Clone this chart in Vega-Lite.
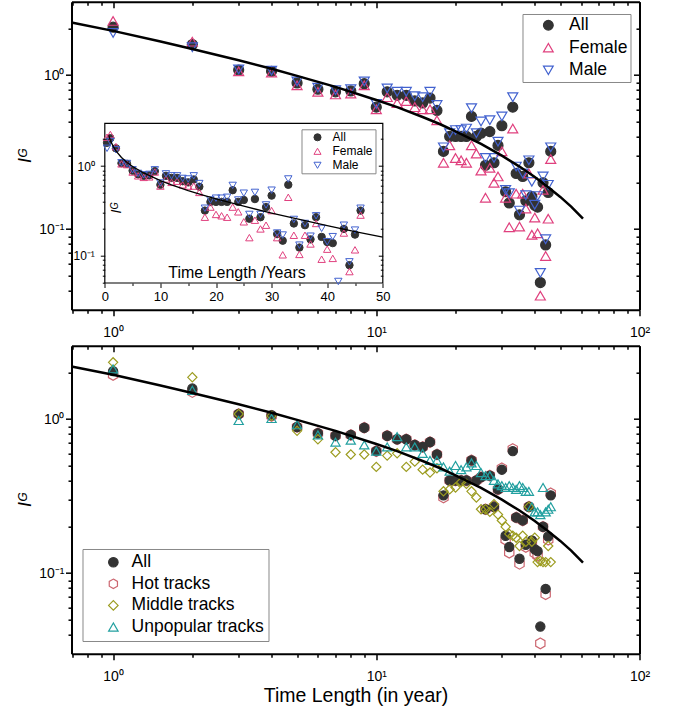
{
  "$schema": "https://vega.github.io/schema/vega-lite/v6.json",
  "padding": {"left": 16.5, "top": 0.7, "right": 5, "bottom": 5},
  "bounds": "flush",
  "spacing": 36,
  "config": {
    "font": "Liberation Sans",
    "view": {"stroke": null},
    "axis": {"grid": false, "domainColor": "black", "tickColor": "black", "labelColor": "black", "titleColor": "black", "labelFont": "Liberation Sans", "titleFont": "Liberation Sans", "titleFontWeight": "normal"},
    "legend": {"labelFont": "Liberation Sans", "labelColor": "black"}
  },
  "resolve": {
    "scale": {"x": "independent", "y": "independent", "stroke": "independent", "fill": "independent", "shape": "independent"},
    "legend": {"stroke": "independent", "fill": "independent", "shape": "independent"}
  },
  "datasets": {
    "gender": [
      {"s":"All","t":0.4,"v":1.82},{"s":"All","t":1,"v":2.05},{"s":"All","t":2,"v":1.58},{"s":"All","t":3,"v":1.08},{"s":"All","t":4,"v":1.06},{"s":"All","t":5,"v":0.89},{"s":"All","t":6,"v":0.81},{"s":"All","t":7,"v":0.78},{"s":"All","t":8,"v":0.79},{"s":"All","t":9,"v":0.88},{"s":"All","t":10,"v":0.62},{"s":"All","t":11,"v":0.78},{"s":"All","t":12,"v":0.74},{"s":"All","t":13,"v":0.74},{"s":"All","t":14,"v":0.68},{"s":"All","t":15,"v":0.66},{"s":"All","t":16,"v":0.71},{"s":"All","t":17,"v":0.59},{"s":"All","t":18,"v":0.32},{"s":"All","t":19,"v":0.4},{"s":"All","t":20,"v":0.4},{"s":"All","t":21,"v":0.4},{"s":"All","t":22,"v":0.4},{"s":"All","t":23,"v":0.54},{"s":"All","t":24,"v":0.4},{"s":"All","t":25,"v":0.42},{"s":"All","t":26,"v":0.26},{"s":"All","t":27,"v":0.43},{"s":"All","t":28,"v":0.27},{"s":"All","t":29,"v":0.35},{"s":"All","t":30,"v":0.47},{"s":"All","t":31,"v":0.175},{"s":"All","t":32,"v":0.148},{"s":"All","t":33,"v":0.62},{"s":"All","t":34,"v":0.23},{"s":"All","t":35,"v":0.124},{"s":"All","t":36,"v":0.22},{"s":"All","t":37,"v":0.153},{"s":"All","t":38,"v":0.27},{"s":"All","t":39,"v":0.163},{"s":"All","t":40,"v":0.143},{"s":"All","t":41,"v":0.139},{"s":"All","t":42,"v":0.045},{"s":"All","t":43,"v":0.2},{"s":"All","t":44,"v":0.079},{"s":"All","t":45,"v":0.173},{"s":"All","t":46,"v":0.32},
      {"s":"Female","t":0.4,"v":2.1},{"s":"Female","t":1,"v":2.25},{"s":"Female","t":2,"v":1.65},{"s":"Female","t":3,"v":1.06},{"s":"Female","t":4,"v":1.04},{"s":"Female","t":5,"v":0.86},{"s":"Female","t":6,"v":0.78},{"s":"Female","t":7,"v":0.75},{"s":"Female","t":8,"v":0.76},{"s":"Female","t":9,"v":0.86},{"s":"Female","t":10,"v":0.6},{"s":"Female","t":11,"v":0.72},{"s":"Female","t":12,"v":0.66},{"s":"Female","t":13,"v":0.68},{"s":"Female","t":14,"v":0.62},{"s":"Female","t":15,"v":0.6},{"s":"Female","t":16,"v":0.6},{"s":"Female","t":17,"v":0.51},{"s":"Female","t":18,"v":0.27},{"s":"Female","t":19,"v":0.35},{"s":"Female","t":20,"v":0.29},{"s":"Female","t":21,"v":0.28},{"s":"Female","t":22,"v":0.27},{"s":"Female","t":23,"v":0.35},{"s":"Female","t":24,"v":0.31},{"s":"Female","t":25,"v":0.24},{"s":"Female","t":26,"v":0.16},{"s":"Female","t":27,"v":0.25},{"s":"Female","t":28,"v":0.2},{"s":"Female","t":29,"v":0.22},{"s":"Female","t":30,"v":0.32},{"s":"Female","t":31,"v":0.16},{"s":"Female","t":32,"v":0.103},{"s":"Female","t":33,"v":0.45},{"s":"Female","t":34,"v":0.17},{"s":"Female","t":35,"v":0.104},{"s":"Female","t":36,"v":0.17},{"s":"Female","t":37,"v":0.136},{"s":"Female","t":38,"v":0.23},{"s":"Female","t":39,"v":0.092},{"s":"Female","t":40,"v":0.119},{"s":"Female","t":41,"v":0.094},{"s":"Female","t":42,"v":0.037},{"s":"Female","t":43,"v":0.18},{"s":"Female","t":44,"v":0.067},{"s":"Female","t":45,"v":0.117},{"s":"Female","t":46,"v":0.285},
      {"s":"Male","t":0.4,"v":1.58},{"s":"Male","t":1,"v":1.88},{"s":"Male","t":2,"v":1.52},{"s":"Male","t":3,"v":1.09},{"s":"Male","t":4,"v":1.07},{"s":"Male","t":5,"v":0.91},{"s":"Male","t":6,"v":0.83},{"s":"Male","t":7,"v":0.8},{"s":"Male","t":8,"v":0.81},{"s":"Male","t":9,"v":0.91},{"s":"Male","t":10,"v":0.65},{"s":"Male","t":11,"v":0.82},{"s":"Male","t":12,"v":0.78},{"s":"Male","t":13,"v":0.78},{"s":"Male","t":14,"v":0.73},{"s":"Male","t":15,"v":0.72},{"s":"Male","t":16,"v":0.78},{"s":"Male","t":17,"v":0.64},{"s":"Male","t":18,"v":0.34},{"s":"Male","t":19,"v":0.42},{"s":"Male","t":20,"v":0.44},{"s":"Male","t":21,"v":0.44},{"s":"Male","t":22,"v":0.45},{"s":"Male","t":23,"v":0.61},{"s":"Male","t":24,"v":0.42},{"s":"Male","t":25,"v":0.5},{"s":"Male","t":26,"v":0.29},{"s":"Male","t":27,"v":0.51},{"s":"Male","t":28,"v":0.29},{"s":"Male","t":29,"v":0.37},{"s":"Male","t":30,"v":0.54},{"s":"Male","t":31,"v":0.18},{"s":"Male","t":32,"v":0.171},{"s":"Male","t":33,"v":0.72},{"s":"Male","t":34,"v":0.255},{"s":"Male","t":35,"v":0.132},{"s":"Male","t":36,"v":0.23},{"s":"Male","t":37,"v":0.166},{"s":"Male","t":38,"v":0.28},{"s":"Male","t":39,"v":0.203},{"s":"Male","t":40,"v":0.144},{"s":"Male","t":41,"v":0.164},{"s":"Male","t":42,"v":0.052},{"s":"Male","t":43,"v":0.22},{"s":"Male","t":44,"v":0.086},{"s":"Male","t":45,"v":0.194},{"s":"Male","t":46,"v":0.34}
    ],
    "tracks": [
      {"s":"Hot tracks","t":1,"v":1.94},{"s":"Hot tracks","t":2,"v":1.5},{"s":"Hot tracks","t":3,"v":1.08},{"s":"Hot tracks","t":4,"v":1.05},{"s":"Hot tracks","t":5,"v":0.89},{"s":"Hot tracks","t":6,"v":0.81},{"s":"Hot tracks","t":7,"v":0.78},{"s":"Hot tracks","t":8,"v":0.79},{"s":"Hot tracks","t":9,"v":0.88},{"s":"Hot tracks","t":10,"v":0.62},{"s":"Hot tracks","t":11,"v":0.78},{"s":"Hot tracks","t":12,"v":0.74},{"s":"Hot tracks","t":13,"v":0.74},{"s":"Hot tracks","t":14,"v":0.68},{"s":"Hot tracks","t":15,"v":0.66},{"s":"Hot tracks","t":16,"v":0.71},{"s":"Hot tracks","t":17,"v":0.59},{"s":"Hot tracks","t":18,"v":0.31},{"s":"Hot tracks","t":19,"v":0.4},{"s":"Hot tracks","t":20,"v":0.4},{"s":"Hot tracks","t":21,"v":0.4},{"s":"Hot tracks","t":22,"v":0.4},{"s":"Hot tracks","t":23,"v":0.54},{"s":"Hot tracks","t":24,"v":0.4},{"s":"Hot tracks","t":25,"v":0.42},{"s":"Hot tracks","t":26,"v":0.26},{"s":"Hot tracks","t":27,"v":0.43},{"s":"Hot tracks","t":28,"v":0.27},{"s":"Hot tracks","t":29,"v":0.35},{"s":"Hot tracks","t":30,"v":0.48},{"s":"Hot tracks","t":31,"v":0.165},{"s":"Hot tracks","t":32,"v":0.136},{"s":"Hot tracks","t":33,"v":0.64},{"s":"Hot tracks","t":34,"v":0.23},{"s":"Hot tracks","t":35,"v":0.115},{"s":"Hot tracks","t":36,"v":0.22},{"s":"Hot tracks","t":37,"v":0.148},{"s":"Hot tracks","t":38,"v":0.27},{"s":"Hot tracks","t":39,"v":0.16},{"s":"Hot tracks","t":40,"v":0.135},{"s":"Hot tracks","t":41,"v":0.13},{"s":"Hot tracks","t":42,"v":0.035},{"s":"Hot tracks","t":43,"v":0.2},{"s":"Hot tracks","t":44,"v":0.073},{"s":"Hot tracks","t":45,"v":0.165},{"s":"Hot tracks","t":46,"v":0.33},
      {"s":"All","t":1,"v":2.05},{"s":"All","t":2,"v":1.58},{"s":"All","t":3,"v":1.08},{"s":"All","t":4,"v":1.06},{"s":"All","t":5,"v":0.89},{"s":"All","t":6,"v":0.81},{"s":"All","t":7,"v":0.78},{"s":"All","t":8,"v":0.79},{"s":"All","t":9,"v":0.88},{"s":"All","t":10,"v":0.62},{"s":"All","t":11,"v":0.78},{"s":"All","t":12,"v":0.74},{"s":"All","t":13,"v":0.74},{"s":"All","t":14,"v":0.68},{"s":"All","t":15,"v":0.66},{"s":"All","t":16,"v":0.71},{"s":"All","t":17,"v":0.59},{"s":"All","t":18,"v":0.32},{"s":"All","t":19,"v":0.4},{"s":"All","t":20,"v":0.4},{"s":"All","t":21,"v":0.4},{"s":"All","t":22,"v":0.4},{"s":"All","t":23,"v":0.54},{"s":"All","t":24,"v":0.4},{"s":"All","t":25,"v":0.42},{"s":"All","t":26,"v":0.26},{"s":"All","t":27,"v":0.43},{"s":"All","t":28,"v":0.27},{"s":"All","t":29,"v":0.35},{"s":"All","t":30,"v":0.47},{"s":"All","t":31,"v":0.175},{"s":"All","t":32,"v":0.148},{"s":"All","t":33,"v":0.62},{"s":"All","t":34,"v":0.23},{"s":"All","t":35,"v":0.124},{"s":"All","t":36,"v":0.22},{"s":"All","t":37,"v":0.153},{"s":"All","t":38,"v":0.27},{"s":"All","t":39,"v":0.163},{"s":"All","t":40,"v":0.143},{"s":"All","t":41,"v":0.139},{"s":"All","t":42,"v":0.045},{"s":"All","t":43,"v":0.2},{"s":"All","t":44,"v":0.079},{"s":"All","t":45,"v":0.173},{"s":"All","t":46,"v":0.32},
      {"s":"Middle tracks","t":1,"v":2.34},{"s":"Middle tracks","t":2,"v":1.87},{"s":"Middle tracks","t":3,"v":1.08},{"s":"Middle tracks","t":4,"v":1.05},{"s":"Middle tracks","t":5,"v":0.84},{"s":"Middle tracks","t":6,"v":0.74},{"s":"Middle tracks","t":7,"v":0.61},{"s":"Middle tracks","t":8,"v":0.59},{"s":"Middle tracks","t":9,"v":0.59},{"s":"Middle tracks","t":10,"v":0.49},{"s":"Middle tracks","t":11,"v":0.58},{"s":"Middle tracks","t":12,"v":0.6},{"s":"Middle tracks","t":13,"v":0.49},{"s":"Middle tracks","t":14,"v":0.53},{"s":"Middle tracks","t":15,"v":0.47},{"s":"Middle tracks","t":16,"v":0.45},{"s":"Middle tracks","t":17,"v":0.48},{"s":"Middle tracks","t":18,"v":0.34},{"s":"Middle tracks","t":19,"v":0.35},{"s":"Middle tracks","t":20,"v":0.36},{"s":"Middle tracks","t":21,"v":0.39},{"s":"Middle tracks","t":22,"v":0.38},{"s":"Middle tracks","t":23,"v":0.34},{"s":"Middle tracks","t":24,"v":0.31},{"s":"Middle tracks","t":25,"v":0.26},{"s":"Middle tracks","t":26,"v":0.26},{"s":"Middle tracks","t":27,"v":0.25},{"s":"Middle tracks","t":28,"v":0.28},{"s":"Middle tracks","t":29,"v":0.24},{"s":"Middle tracks","t":30,"v":0.22},{"s":"Middle tracks","t":31,"v":0.2},{"s":"Middle tracks","t":32,"v":0.18},{"s":"Middle tracks","t":33,"v":0.175},{"s":"Middle tracks","t":34,"v":0.17},{"s":"Middle tracks","t":35,"v":0.15},{"s":"Middle tracks","t":36,"v":0.175},{"s":"Middle tracks","t":37,"v":0.16},{"s":"Middle tracks","t":38,"v":0.27},{"s":"Middle tracks","t":39,"v":0.16},{"s":"Middle tracks","t":40,"v":0.17},{"s":"Middle tracks","t":41,"v":0.118},{"s":"Middle tracks","t":42,"v":0.12},{"s":"Middle tracks","t":43,"v":0.118},{"s":"Middle tracks","t":44,"v":0.118},{"s":"Middle tracks","t":45,"v":0.15},{"s":"Middle tracks","t":46,"v":0.118},
      {"s":"Unpopular tracks","t":1,"v":2.12},{"s":"Unpopular tracks","t":2,"v":1.54},{"s":"Unpopular tracks","t":3,"v":0.98},{"s":"Unpopular tracks","t":4,"v":1.01},{"s":"Unpopular tracks","t":5,"v":0.92},{"s":"Unpopular tracks","t":6,"v":0.79},{"s":"Unpopular tracks","t":7,"v":0.71},{"s":"Unpopular tracks","t":8,"v":0.73},{"s":"Unpopular tracks","t":9,"v":0.68},{"s":"Unpopular tracks","t":10,"v":0.62},{"s":"Unpopular tracks","t":11,"v":0.66},{"s":"Unpopular tracks","t":12,"v":0.77},{"s":"Unpopular tracks","t":13,"v":0.66},{"s":"Unpopular tracks","t":14,"v":0.66},{"s":"Unpopular tracks","t":15,"v":0.6},{"s":"Unpopular tracks","t":16,"v":0.54},{"s":"Unpopular tracks","t":17,"v":0.54},{"s":"Unpopular tracks","t":18,"v":0.49},{"s":"Unpopular tracks","t":19,"v":0.46},{"s":"Unpopular tracks","t":20,"v":0.5},{"s":"Unpopular tracks","t":21,"v":0.47},{"s":"Unpopular tracks","t":22,"v":0.49},{"s":"Unpopular tracks","t":23,"v":0.52},{"s":"Unpopular tracks","t":24,"v":0.5},{"s":"Unpopular tracks","t":25,"v":0.45},{"s":"Unpopular tracks","t":26,"v":0.43},{"s":"Unpopular tracks","t":27,"v":0.43},{"s":"Unpopular tracks","t":28,"v":0.4},{"s":"Unpopular tracks","t":29,"v":0.38},{"s":"Unpopular tracks","t":30,"v":0.37},{"s":"Unpopular tracks","t":31,"v":0.36},{"s":"Unpopular tracks","t":32,"v":0.37},{"s":"Unpopular tracks","t":33,"v":0.36},{"s":"Unpopular tracks","t":34,"v":0.35},{"s":"Unpopular tracks","t":35,"v":0.37},{"s":"Unpopular tracks","t":36,"v":0.36},{"s":"Unpopular tracks","t":37,"v":0.34},{"s":"Unpopular tracks","t":38,"v":0.34},{"s":"Unpopular tracks","t":39,"v":0.27},{"s":"Unpopular tracks","t":40,"v":0.25},{"s":"Unpopular tracks","t":41,"v":0.25},{"s":"Unpopular tracks","t":42,"v":0.24},{"s":"Unpopular tracks","t":43,"v":0.36},{"s":"Unpopular tracks","t":44,"v":0.25},{"s":"Unpopular tracks","t":45,"v":0.26},{"s":"Unpopular tracks","t":46,"v":0.27}
    ],
    "fit": [
      {"t":0.695,"v":2.2},{"t":1,"v":1.94},{"t":1.5,"v":1.66},{"t":2,"v":1.48},{"t":3,"v":1.25},{"t":4,"v":1.1},{"t":5,"v":0.99},{"t":7,"v":0.84},{"t":10,"v":0.69},{"t":12,"v":0.62},{"t":15,"v":0.535},{"t":17.5,"v":0.48},{"t":20,"v":0.432},{"t":25,"v":0.358},{"t":30,"v":0.3},{"t":35,"v":0.255},{"t":40,"v":0.218},{"t":45,"v":0.187},{"t":50,"v":0.162},{"t":55,"v":0.14},{"t":61,"v":0.117}
    ]
  },
  "vconcat": [
    {
      "width": 568, "height": 308,
      "resolve": {
        "scale": {"x": "independent", "y": "independent", "stroke": "independent", "fill": "independent", "shape": "independent"},
        "axis": {"x": "independent", "y": "independent"},
        "legend": {"stroke": "independent", "fill": "independent", "shape": "independent"}
      },
      "layer": [
        {
          "encoding": {
            "x": {"field": "t", "type": "quantitative", "scale": {"type": "log", "domain": [0.695, 100], "nice": false},
              "axis": {"orient": "bottom", "values": [0.7,0.8,0.9,1,2,3,4,5,6,7,8,9,10,20,30,40,50,60,70,80,90,100], "labelExpr": "datum.value==1?'10⁰':datum.value==10?'10¹':datum.value==100?'10²':''", "tickSize": {"condition": {"test": "datum.value==1||datum.value==10||datum.value==100", "value": 6}, "value": 3.5}, "tickWidth": 1.5, "domainWidth": 2, "labelFontSize": 14, "labelBaseline": "alphabetic", "labelPadding": 21, "labelOverlap": false, "labelFlush": false, "zindex": 1, "title": null}},
            "y": {"field": "v", "type": "quantitative", "scale": {"type": "log", "domain": [0.03, 3], "nice": false},
              "axis": {"orient": "left", "values": [0.04,0.05,0.06,0.07,0.08,0.09,0.1,0.2,0.3,0.4,0.5,0.6,0.7,0.8,0.9,1,2], "labelExpr": "datum.value==1?'10⁰':datum.value==0.1?'10⁻¹':''", "tickSize": {"condition": {"test": "datum.value==1||datum.value==0.1", "value": 6}, "value": 3.5}, "tickWidth": 1.5, "domainWidth": 2, "labelFontSize": 14, "labelPadding": 1.5, "labelOverlap": false, "labelFlush": false, "zindex": 1, "title": "Iᴳ", "titleFontSize": 18, "titleFontStyle": "italic", "titleX": -45.7, "titleBaseline": "middle", "titleAlign": "center"}}
          },
          "layer": [
            {
              "data": {"name": "gender"},
              "transform": [{"filter": "datum.t >= 0.69"}],
              "mark": {"type": "point", "filled": true, "opacity": 1, "size": 100, "strokeWidth": 1.2},
              "encoding": {
                "stroke": {"field": "s", "type": "nominal", "scale": {"domain": ["All","Female","Male"], "range": ["#333333","#e0407e","#4262cf"]},
                  "legend": {"title": null, "orient": "none", "legendX": 451, "legendY": 12.3, "padding": 2.5, "strokeColor": "#888888", "fillColor": "white", "labelFontSize": 17.5, "symbolSize": 95, "symbolStrokeWidth": 1.2, "rowPadding": 3.5, "symbolOffset": 14.6, "labelOffset": 12}},
                "fill": {"field": "s", "type": "nominal", "scale": {"domain": ["All","Female","Male"], "range": ["#333333","transparent","transparent"]},
                  "legend": {"title": null, "orient": "none", "legendX": 451, "legendY": 12.3, "padding": 2.5, "strokeColor": "#888888", "fillColor": "white", "labelFontSize": 17.5, "symbolSize": 95, "symbolStrokeWidth": 1.2, "rowPadding": 3.5, "symbolOffset": 14.6, "labelOffset": 12}},
                "shape": {"field": "s", "type": "nominal", "scale": {"domain": ["All","Female","Male"], "range": ["circle","triangle-up","triangle-down"]},
                  "legend": {"title": null, "orient": "none", "legendX": 451, "legendY": 12.3, "padding": 2.5, "strokeColor": "#888888", "fillColor": "white", "labelFontSize": 17.5, "symbolSize": 95, "symbolStrokeWidth": 1.2, "rowPadding": 3.5, "symbolOffset": 14.6, "labelOffset": 12}}
              }
            },
            {
              "data": {"values": [{"lab": "(a)"}]},
              "mark": {"type": "text", "fontSize": 21, "align": "center", "baseline": "middle", "color": "black"},
              "encoding": {"x": {"datum": 78}, "y": {"datum": 0.042}, "text": {"field": "lab"}}
            }
          ]
        },
        {
          "data": {"name": "fit"},
          "mark": {"type": "line", "color": "black", "strokeWidth": 2.5},
          "encoding": {
            "x": {"field": "t", "type": "quantitative", "scale": {"type": "log", "domain": [0.695, 100], "nice": false},
              "axis": {"orient": "top", "values": [0.7,0.8,0.9,1,2,3,4,5,6,7,8,9,10,20,30,40,50,60,70,80,90,100], "labels": false, "tickSize": {"condition": {"test": "datum.value==1||datum.value==10||datum.value==100", "value": -6}, "value": -3.5}, "tickWidth": 1.5, "domainWidth": 2, "zindex": 1, "title": null}},
            "y": {"field": "v", "type": "quantitative", "scale": {"type": "log", "domain": [0.03, 3], "nice": false},
              "axis": {"orient": "right", "values": [0.04,0.05,0.06,0.07,0.08,0.09,0.1,0.2,0.3,0.4,0.5,0.6,0.7,0.8,0.9,1,2], "labels": false, "tickSize": {"condition": {"test": "datum.value==1||datum.value==0.1", "value": -6}, "value": -3.5}, "tickWidth": 1.5, "domainWidth": 2, "zindex": 1, "title": null}}
          }
        },
        {
          "data": {"values": [{}]},
          "mark": {"type": "rect", "fill": "white", "stroke": "black", "strokeWidth": 1.2},
          "encoding": {
            "x": {"datum": 0, "type": "quantitative", "scale": {"domain": [0, 50], "range": [33.3, 311.3], "nice": false, "zero": false}, "axis": null},
            "x2": {"datum": 50},
            "y": {"datum": 0.05, "type": "quantitative", "scale": {"type": "log", "domain": [0.05, 3], "range": [281.3, 121.6], "nice": false},
              "axis": {"orient": "right", "offset": -256.7, "values": [0.06,0.07,0.08,0.09,0.1,0.2,0.3,0.4,0.5,0.6,0.7,0.8,0.9,1,2], "labels": false, "domain": false, "tickSize": {"condition": {"test": "datum.value==1||datum.value==0.1", "value": -4.5}, "value": -2.5}, "tickWidth": 1, "zindex": 1, "title": null}},
            "y2": {"datum": 3}
          }
        },
        {
          "encoding": {
            "x": {"field": "t", "type": "quantitative", "scale": {"domain": [0, 50], "range": [33.3, 311.3], "nice": false, "zero": false},
              "axis": {"orient": "bottom", "offset": -26.7, "values": [0,5,10,15,20,25,30,35,40,45,50], "labelExpr": "datum.value%10==0?datum.label:''", "tickSize": {"condition": {"test": "datum.value%10==0", "value": 4.5}, "value": 2.5}, "tickWidth": 1, "domain": false, "labelFontSize": 13, "labelBaseline": "alphabetic", "labelPadding": 13, "labelOverlap": false, "labelFlush": false, "zindex": 1, "title": "Time Length /Years", "titleFontSize": 16, "titleX": 165, "titleY": -5, "titleBaseline": "alphabetic", "titleAlign": "center"}},
            "y": {"field": "v", "type": "quantitative", "scale": {"type": "log", "domain": [0.05, 3], "range": [281.3, 121.6], "nice": false},
              "axis": {"orient": "left", "offset": -33.3, "values": [0.05,0.06,0.07,0.08,0.09,0.1,0.2,0.3,0.4,0.5,0.6,0.7,0.8,0.9,1,2], "labelExpr": "datum.value==1?'10⁰':datum.value==0.1?'10⁻¹':''", "tickSize": {"condition": {"test": "datum.value==1||datum.value==0.1", "value": 4.5}, "value": 2.5}, "tickWidth": 1, "domain": false, "labelFontSize": 12, "labelPadding": 6, "labelOverlap": false, "labelFlush": false, "zindex": 1, "title": "Iᴳ", "titleFontSize": 14, "titleFontStyle": "italic", "titleX": 12, "titleY": 206, "titleAngle": 270, "titleBaseline": "middle", "titleAlign": "center"}}
          },
          "layer": [
            {
              "data": {"name": "gender"},
              "transform": [{"filter": "datum.v >= 0.05"}],
              "mark": {"type": "point", "filled": true, "opacity": 1, "size": 55, "strokeWidth": 1},
              "encoding": {
                "stroke": {"field": "s", "type": "nominal", "scale": {"domain": ["All","Female","Male"], "range": ["#333333","#e0407e","#4262cf"]},
                  "legend": {"title": null, "orient": "none", "legendX": 230, "legendY": 127.6, "padding": 2, "strokeColor": "#888888", "fillColor": "white", "labelFontSize": 12, "symbolSize": 50, "symbolStrokeWidth": 1, "rowPadding": 2, "symbolOffset": 8, "labelOffset": 9}},
                "fill": {"field": "s", "type": "nominal", "scale": {"domain": ["All","Female","Male"], "range": ["#333333","transparent","transparent"]},
                  "legend": {"title": null, "orient": "none", "legendX": 230, "legendY": 127.6, "padding": 2, "strokeColor": "#888888", "fillColor": "white", "labelFontSize": 12, "symbolSize": 50, "symbolStrokeWidth": 1, "rowPadding": 2, "symbolOffset": 8, "labelOffset": 9}},
                "shape": {"field": "s", "type": "nominal", "scale": {"domain": ["All","Female","Male"], "range": ["circle","triangle-up","triangle-down"]},
                  "legend": {"title": null, "orient": "none", "legendX": 230, "legendY": 127.6, "padding": 2, "strokeColor": "#888888", "fillColor": "white", "labelFontSize": 12, "symbolSize": 50, "symbolStrokeWidth": 1, "rowPadding": 2, "symbolOffset": 8, "labelOffset": 9}}
              }
            },
            {
              "data": {"name": "fit"},
              "transform": [{"filter": "datum.t <= 50"}],
              "mark": {"type": "line", "color": "black", "strokeWidth": 1.3}
            }
          ]
        }
      ]
    },
    {
      "width": 568, "height": 308,
      "resolve": {
        "scale": {"x": "independent", "y": "independent"},
        "axis": {"x": "independent", "y": "independent"}
      },
      "layer": [
        {
          "encoding": {
            "x": {"field": "t", "type": "quantitative", "scale": {"type": "log", "domain": [0.695, 100], "nice": false},
              "axis": {"orient": "bottom", "values": [0.7,0.8,0.9,1,2,3,4,5,6,7,8,9,10,20,30,40,50,60,70,80,90,100], "labelExpr": "datum.value==1?'10⁰':datum.value==10?'10¹':datum.value==100?'10²':''", "tickSize": {"condition": {"test": "datum.value==1||datum.value==10||datum.value==100", "value": 6}, "value": 3.5}, "tickWidth": 1.5, "domainWidth": 2, "labelFontSize": 14, "labelBaseline": "alphabetic", "labelPadding": 21, "labelOverlap": false, "labelFlush": false, "zindex": 1, "title": "Time Length (in year)", "titleFontSize": 19.5, "titleY": 48, "titleBaseline": "alphabetic"}},
            "y": {"field": "v", "type": "quantitative", "scale": {"type": "log", "domain": [0.03, 3], "nice": false},
              "axis": {"orient": "left", "values": [0.04,0.05,0.06,0.07,0.08,0.09,0.1,0.2,0.3,0.4,0.5,0.6,0.7,0.8,0.9,1,2], "labelExpr": "datum.value==1?'10⁰':datum.value==0.1?'10⁻¹':''", "tickSize": {"condition": {"test": "datum.value==1||datum.value==0.1", "value": 6}, "value": 3.5}, "tickWidth": 1.5, "domainWidth": 2, "labelFontSize": 14, "labelPadding": 1.5, "labelOverlap": false, "labelFlush": false, "zindex": 1, "title": "Iᴳ", "titleFontSize": 18, "titleFontStyle": "italic", "titleX": -45.7, "titleBaseline": "middle", "titleAlign": "center"}}
          },
          "layer": [
            {
              "data": {"name": "tracks"},
              "transform": [{"filter": "datum.s == 'Hot tracks'"}],
              "mark": {"type": "point", "filled": true, "opacity": 1, "size": 115, "strokeWidth": 1.2},
              "encoding": {
                "stroke": {"field": "s", "type": "nominal", "scale": {"domain": ["All","Hot tracks","Middle tracks","Unpopular tracks"], "range": ["#333333","#cc6670","#9c9c20","#22a0a0"]},
                  "legend": {"title": null, "orient": "none", "legendX": 11, "legendY": 203.3, "padding": 4.5, "strokeColor": "#888888", "fillColor": "white", "labelFontSize": 17.5, "symbolSize": 90, "symbolStrokeWidth": 1.2, "rowPadding": 2.6, "symbolOffset": 17.6, "labelOffset": 9.5}},
                "fill": {"field": "s", "type": "nominal", "scale": {"domain": ["All","Hot tracks","Middle tracks","Unpopular tracks"], "range": ["#333333","transparent","transparent","transparent"]},
                  "legend": {"title": null, "orient": "none", "legendX": 11, "legendY": 203.3, "padding": 4.5, "strokeColor": "#888888", "fillColor": "white", "labelFontSize": 17.5, "symbolSize": 90, "symbolStrokeWidth": 1.2, "rowPadding": 2.6, "symbolOffset": 17.6, "labelOffset": 9.5}},
                "shape": {"field": "s", "type": "nominal", "scale": {"domain": ["All","Hot tracks","Middle tracks","Unpopular tracks"], "range": ["circle","M0,-1L0.866,-0.5L0.866,0.5L0,1L-0.866,0.5L-0.866,-0.5Z","diamond","triangle-up"]},
                  "legend": {"title": null, "orient": "none", "legendX": 11, "legendY": 203.3, "padding": 4.5, "strokeColor": "#888888", "fillColor": "white", "labelFontSize": 17.5, "symbolSize": 90, "symbolStrokeWidth": 1.2, "rowPadding": 2.6, "symbolOffset": 17.6, "labelOffset": 9.5}}
              }
            },
            {
              "data": {"name": "tracks"},
              "transform": [{"filter": "datum.s != 'Hot tracks'"}],
              "mark": {"type": "point", "filled": true, "opacity": 1, "size": 85, "strokeWidth": 1.2},
              "encoding": {
                "stroke": {"field": "s", "type": "nominal", "scale": {"domain": ["All","Hot tracks","Middle tracks","Unpopular tracks"], "range": ["#333333","#cc6670","#9c9c20","#22a0a0"]},
                  "legend": {"title": null, "orient": "none", "legendX": 11, "legendY": 203.3, "padding": 4.5, "strokeColor": "#888888", "fillColor": "white", "labelFontSize": 17.5, "symbolSize": 90, "symbolStrokeWidth": 1.2, "rowPadding": 2.6, "symbolOffset": 17.6, "labelOffset": 9.5}},
                "fill": {"field": "s", "type": "nominal", "scale": {"domain": ["All","Hot tracks","Middle tracks","Unpopular tracks"], "range": ["#333333","transparent","transparent","transparent"]},
                  "legend": {"title": null, "orient": "none", "legendX": 11, "legendY": 203.3, "padding": 4.5, "strokeColor": "#888888", "fillColor": "white", "labelFontSize": 17.5, "symbolSize": 90, "symbolStrokeWidth": 1.2, "rowPadding": 2.6, "symbolOffset": 17.6, "labelOffset": 9.5}},
                "shape": {"field": "s", "type": "nominal", "scale": {"domain": ["All","Hot tracks","Middle tracks","Unpopular tracks"], "range": ["circle","M0,-1L0.866,-0.5L0.866,0.5L0,1L-0.866,0.5L-0.866,-0.5Z","diamond","triangle-up"]},
                  "legend": {"title": null, "orient": "none", "legendX": 11, "legendY": 203.3, "padding": 4.5, "strokeColor": "#888888", "fillColor": "white", "labelFontSize": 17.5, "symbolSize": 90, "symbolStrokeWidth": 1.2, "rowPadding": 2.6, "symbolOffset": 17.6, "labelOffset": 9.5}}
              }
            },
            {
              "data": {"values": [{"lab": "(b)"}]},
              "mark": {"type": "text", "fontSize": 21, "align": "center", "baseline": "middle", "color": "black"},
              "encoding": {"x": {"datum": 78}, "y": {"datum": 0.042}, "text": {"field": "lab"}}
            }
          ]
        },
        {
          "data": {"name": "fit"},
          "mark": {"type": "line", "color": "black", "strokeWidth": 2.5},
          "encoding": {
            "x": {"field": "t", "type": "quantitative", "scale": {"type": "log", "domain": [0.695, 100], "nice": false},
              "axis": {"orient": "top", "values": [0.7,0.8,0.9,1,2,3,4,5,6,7,8,9,10,20,30,40,50,60,70,80,90,100], "labels": false, "tickSize": {"condition": {"test": "datum.value==1||datum.value==10||datum.value==100", "value": -6}, "value": -3.5}, "tickWidth": 1.5, "domainWidth": 2, "zindex": 1, "title": null}},
            "y": {"field": "v", "type": "quantitative", "scale": {"type": "log", "domain": [0.03, 3], "nice": false},
              "axis": {"orient": "right", "values": [0.04,0.05,0.06,0.07,0.08,0.09,0.1,0.2,0.3,0.4,0.5,0.6,0.7,0.8,0.9,1,2], "labels": false, "tickSize": {"condition": {"test": "datum.value==1||datum.value==0.1", "value": -6}, "value": -3.5}, "tickWidth": 1.5, "domainWidth": 2, "zindex": 1, "title": null}}
          }
        }
      ]
    }
  ]
}
